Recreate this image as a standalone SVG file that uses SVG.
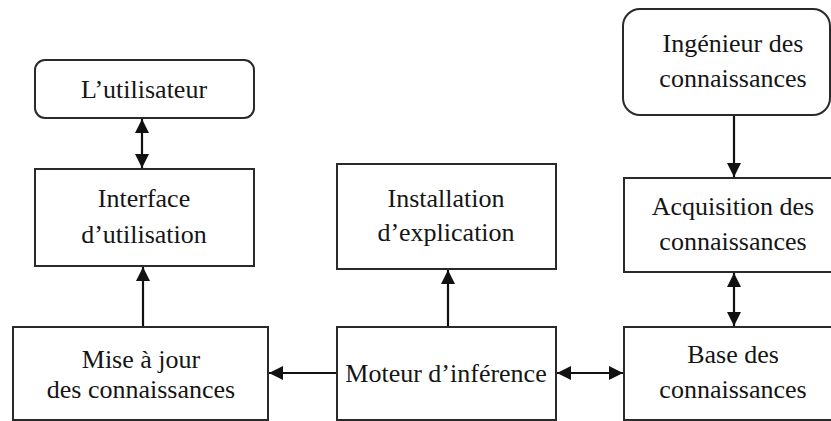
<svg xmlns="http://www.w3.org/2000/svg" width="831" height="421" viewBox="0 0 831 421">
<style>
.box{fill:#fff;stroke:#2a2a2a;stroke-width:2}
.t{font-size:26px;fill:#151515;text-anchor:middle}
.c{stroke:#111;stroke-width:2.2;fill:none}
</style>
<defs>
<marker id="ah" viewBox="0 0 14 14" refX="14" refY="7" markerWidth="14" markerHeight="14" markerUnits="userSpaceOnUse" orient="auto-start-reverse">
<path d="M0,0 L14,7 L0,14 Z" fill="#111"/>
</marker>
</defs>
<rect width="831" height="421" fill="#fff"/>
<g font-family="Liberation Serif, Times New Roman, serif">
<g id="utilisateur"><rect class="box" x="35" y="60" width="219" height="58" rx="10"/><text class="t" x="144" y="98">L’utilisateur</text></g>
<g id="interface"><rect class="box" x="35" y="169" width="219" height="97"/><text class="t" x="144" y="207">Interface</text><text class="t" x="144" y="243">d’utilisation</text></g>
<g id="miseajour"><rect class="box" x="13" y="327" width="255" height="93"/><text class="t" x="141" y="368">Mise à jour</text><text class="t" x="141" y="398">des connaissances</text></g>
<g id="installation"><rect class="box" x="337" y="164" width="219" height="105"/><text class="t" x="446" y="207">Installation</text><text class="t" x="446" y="241">d’explication</text></g>
<g id="moteur"><rect class="box" x="337" y="327" width="219" height="93"/><text class="t" x="446" y="382">Moteur d’inférence</text></g>
<g id="ingenieur"><rect class="box" x="623" y="9" width="207" height="106" rx="17"/><text class="t" x="733" y="52">Ingénieur des</text><text class="t" x="733" y="87">connaissances</text></g>
<g id="acquisition"><rect class="box" x="624" y="178" width="220" height="94"/><text class="t" x="733" y="215">Acquisition des</text><text class="t" x="733" y="250">connaissances</text></g>
<g id="base"><rect class="box" x="624" y="327" width="220" height="93"/><text class="t" x="733" y="363">Base des</text><text class="t" x="733" y="398">connaissances</text></g>
</g>
<g id="connectors">
<line class="c" x1="142" y1="119" x2="142" y2="168" marker-start="url(#ah)" marker-end="url(#ah)"/>
<line class="c" x1="143" y1="326" x2="143" y2="267" marker-end="url(#ah)"/>
<line class="c" x1="336" y1="373" x2="269" y2="373" marker-end="url(#ah)"/>
<line class="c" x1="448" y1="326" x2="448" y2="270" marker-end="url(#ah)"/>
<line class="c" x1="557" y1="373" x2="623" y2="373" marker-start="url(#ah)" marker-end="url(#ah)"/>
<line class="c" x1="734" y1="116" x2="734" y2="177" marker-end="url(#ah)"/>
<line class="c" x1="734" y1="273" x2="734" y2="326" marker-start="url(#ah)" marker-end="url(#ah)"/>
</g>
</svg>
